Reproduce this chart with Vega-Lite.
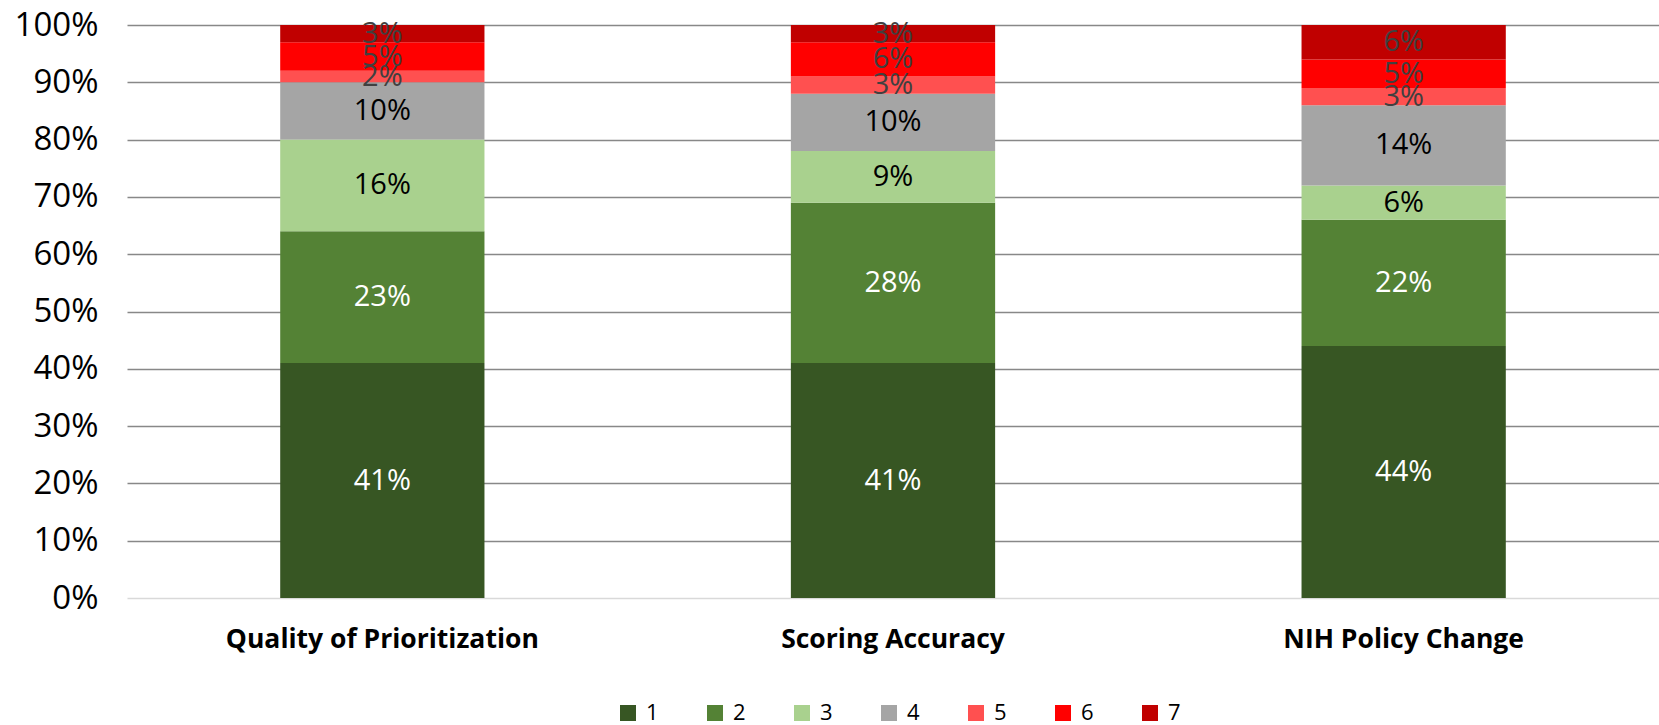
{
  "$schema": "https://vega.github.io/schema/vega-lite/v6.json",
  "width": 1532,
  "height": 573,
  "autosize": {"type": "none"},
  "padding": {"left": 127, "top": 25, "right": 0, "bottom": 127},
  "background": "white",
  "config": {
    "view": {"stroke": null},
    "font": "Open Sans",
    "axis": {"labelFont": "Open Sans", "labelColor": "#000000"}
  },
  "data": {
    "values": [
      {"cat": "Quality of Prioritization", "k": "1", "value": 0.41},
      {"cat": "Quality of Prioritization", "k": "2", "value": 0.23},
      {"cat": "Quality of Prioritization", "k": "3", "value": 0.16},
      {"cat": "Quality of Prioritization", "k": "4", "value": 0.10},
      {"cat": "Quality of Prioritization", "k": "5", "value": 0.02},
      {"cat": "Quality of Prioritization", "k": "6", "value": 0.05},
      {"cat": "Quality of Prioritization", "k": "7", "value": 0.03},
      {"cat": "Scoring Accuracy", "k": "1", "value": 0.41},
      {"cat": "Scoring Accuracy", "k": "2", "value": 0.28},
      {"cat": "Scoring Accuracy", "k": "3", "value": 0.09},
      {"cat": "Scoring Accuracy", "k": "4", "value": 0.10},
      {"cat": "Scoring Accuracy", "k": "5", "value": 0.03},
      {"cat": "Scoring Accuracy", "k": "6", "value": 0.06},
      {"cat": "Scoring Accuracy", "k": "7", "value": 0.03},
      {"cat": "NIH Policy Change", "k": "1", "value": 0.44},
      {"cat": "NIH Policy Change", "k": "2", "value": 0.22},
      {"cat": "NIH Policy Change", "k": "3", "value": 0.06},
      {"cat": "NIH Policy Change", "k": "4", "value": 0.14},
      {"cat": "NIH Policy Change", "k": "5", "value": 0.03},
      {"cat": "NIH Policy Change", "k": "6", "value": 0.05},
      {"cat": "NIH Policy Change", "k": "7", "value": 0.06}
    ]
  },
  "transform": [
    {"stack": "value", "groupby": ["cat"], "sort": [{"field": "k", "order": "ascending"}], "as": ["v0", "v1"]},
    {"calculate": "(datum.v0 + datum.v1) / 2", "as": "mid"}
  ],
  "encoding": {
    "x": {
      "field": "cat",
      "type": "nominal",
      "sort": ["Quality of Prioritization", "Scoring Accuracy", "NIH Policy Change"],
      "scale": {"paddingInner": 0.6, "paddingOuter": 0.3},
      "axis": {
        "title": null,
        "labelAngle": 0,
        "labelFontSize": 26.5,
        "labelFontWeight": "bold",
        "labelPadding": 28,
        "labelLimit": 0,
        "ticks": false,
        "domain": false
      }
    }
  },
  "layer": [
    {
      "mark": {"type": "bar"},
      "encoding": {
        "y": {
          "field": "v1",
          "type": "quantitative",
          "scale": {"domain": [0, 1]},
          "axis": {
            "title": null,
            "format": ".0%",
            "values": [0, 0.1, 0.2, 0.3, 0.4, 0.5, 0.6, 0.7, 0.8, 0.9, 1],
            "labelFontSize": 33,
            "labelOverlap": false,
            "labelPadding": 29,
            "ticks": false,
            "domain": false,
            "grid": true,
            "gridColor": {"condition": {"test": "datum.value === 0", "value": "#d9d9d9"}, "value": "#888888"},
            "gridWidth": 1.5
          }
        },
        "y2": {"field": "v0"},
        "color": {
          "field": "k",
          "type": "nominal",
          "scale": {
            "domain": ["1", "2", "3", "4", "5", "6", "7"],
            "range": ["#375623", "#548235", "#A9D18E", "#A5A5A5", "#FF5050", "#FF0000", "#C00000"]
          },
          "legend": {
            "title": null,
            "orient": "none",
            "direction": "horizontal",
            "legendX": 490,
            "legendY": 677,
            "symbolType": "square",
            "symbolSize": 256,
            "symbolStrokeWidth": 0,
            "labelFontSize": 22,
            "labelFont": "Open Sans",
            "labelColor": "#000000",
            "labelOffset": 7,
            "columnPadding": 45,
            "gridAlign": "all",
            "padding": 0
          }
        }
      }
    },
    {
      "mark": {"type": "text", "fontSize": 29, "baseline": "middle", "align": "center"},
      "encoding": {
        "y": {"field": "mid", "type": "quantitative"},
        "text": {"field": "value", "type": "quantitative", "format": ".0%"},
        "color": {
          "condition": [
            {"test": "datum.k == '1' || datum.k == '2'", "value": "#ffffff"},
            {"test": "datum.k == '3' || datum.k == '4'", "value": "#000000"}
          ],
          "value": "#404040"
        }
      }
    }
  ]
}
